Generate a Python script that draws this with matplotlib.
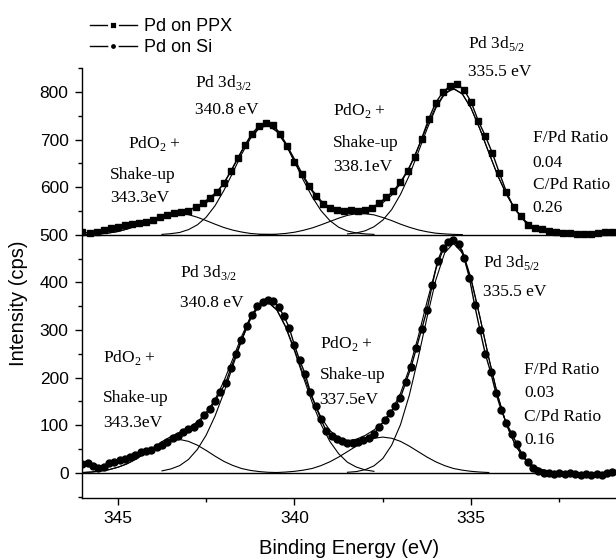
import numpy as np
import matplotlib
matplotlib.use('Agg')
import matplotlib.pyplot as plt
from matplotlib.ticker import MultipleLocator
from matplotlib.lines import Line2D

plt.rcParams['font.family'] = 'Liberation Sans'
plt.rcParams['mathtext.fontset'] = 'custom'
plt.rcParams['mathtext.rm'] = 'Liberation Serif'

# --- measured spectra (counts per second), energy steps go down from 346 eV
ppx_start, ppx_step = 346.0, 0.2
ppx_counts = [506, 503, 505, 510, 514, 516, 520, 523, 524, 527,
              532, 538, 542, 546, 547, 550, 559, 566, 578, 590,
              608, 634, 662, 689, 713, 729, 736, 731, 712, 686,
              654, 628, 603, 581, 565, 556, 553, 551, 552, 551,
              553, 557, 567, 579, 592, 611, 635, 664, 702, 744,
              778, 800, 813, 817, 805, 779, 740, 708, 672, 630,
              590, 558, 540, 520, 514, 512, 509, 506, 504, 503,
              502, 501, 502, 503, 505, 506, 506]

si_start, si_step = 346.0, 0.15
si_counts = [19, 21, 15, 10, 13, 20, 23, 26, 29, 33,
             37, 43, 46, 48, 54, 58, 64, 73, 78, 85,
             92, 97, 104, 122, 133, 150, 170, 188, 220, 250,
             279, 308, 332, 350, 359, 363, 360, 348, 330, 305,
             268, 236, 208, 170, 140, 112, 88, 78, 70, 66,
             63, 62, 64, 68, 74, 82, 96, 111, 125, 140,
             158, 190, 222, 262, 302, 342, 395, 445, 472, 485,
             489, 480, 452, 410, 352, 300, 250, 212, 168, 132,
             104, 82, 60, 38, 23, 10, 3, -1, 0, -2,
             0, -3, -1, -2, -4, -2, -5, -3, -4, -1,
             1, 2]

# --- fitted components, sampled every 0.25 eV from the given start energy
fit_step = 0.25
ppx_base = 500
ppx_peaks = [
    (346.0, [0.5, 1, 2, 4, 7, 12, 18, 25.5, 33, 39.5, 44, 45, 42.5, 37, 30,
             22.5, 15.5, 10, 6, 3, 1.5, 1, 0]),                       # PdO2 343.3
    (343.75, [1, 2.5, 5, 11, 21, 37, 61, 93, 130, 169, 202, 224, 230, 217,
              190, 154, 115, 80, 51, 30, 16, 8, 4, 2, 1]),            # 3d3/2 340.8
    (341.0, [0.5, 1, 1.5, 3, 5.5, 9.5, 14.5, 21, 28, 35, 41, 44.5, 44.5, 42,
             36.5, 30, 22.5, 16, 10.5, 6.5, 3.5, 2, 1, 0.5]),         # PdO2 338.1
    (338.5, [2, 4, 8.5, 17, 31, 53, 85, 125, 173, 222, 266, 296, 307, 296,
             266, 222, 173, 125, 85, 53, 31, 17, 8.5, 4, 2]),         # 3d5/2 335.5
]
si_base = 0
si_peaks = [
    (346.0, [0.5, 1.5, 3.5, 6.5, 11.5, 18.5, 28, 40, 51.5, 61.5, 68, 70, 66,
             58, 47, 35, 24, 15.5, 9, 5, 2.5, 1, 0.5]),               # PdO2 343.3
    (343.75, [4, 8, 15, 28, 49, 79, 119, 168, 223, 277, 322, 351, 358, 342,
              306, 256, 201, 148, 102, 66, 40, 22, 12, 6, 3]),        # 3d3/2 340.8
    (340.5, [0.5, 1.5, 3, 5.5, 9, 15, 23, 33, 44.5, 56, 66, 72.5, 75, 72.5,
             66, 56, 44.5, 33, 23, 15, 9, 5.5, 3, 1.5, 0.5]),         # PdO2 337.5
    (338.5, [1, 2.5, 6.5, 14.5, 30, 58, 101, 163, 241, 326, 405, 462, 482,
             462, 405, 326, 241, 163, 101, 58, 30, 14.5, 6.5, 2.5, 1]),  # 3d5/2 335.5
]
fit_grid_start, fit_grid_len = 346.0, 62

serif = dict(family='Liberation Serif', fontsize=12.5, va='center', ha='left')
labels_ppx = [
    (344.71, 692, 'PdO$_\\mathrm{2}$ +'), (345.22, 625, 'Shake-up'), (345.22, 577, '343.3eV'),
    (342.82, 820, 'Pd 3d$_\\mathrm{3/2}$'), (342.82, 762, '340.8 eV'),
    (338.91, 762, 'PdO$_\\mathrm{2}$ +'), (338.91, 692, 'Shake-up'), (338.91, 642, '338.1eV'),
    (335.10, 903, 'Pd 3d$_\\mathrm{5/2}$'), (335.10, 842, '335.5 eV'),
    (333.26, 703, 'F/Pd Ratio'), (333.26, 652, '0.04'),
    (333.26, 604, 'C/Pd Ratio'), (333.26, 556, '0.26'),
]
labels_si = [
    (343.24, 420, 'Pd 3d$_\\mathrm{3/2}$'), (343.24, 356, '340.8 eV'),
    (345.42, 243, 'PdO$_\\mathrm{2}$ +'), (345.42, 157, 'Shake-up'), (345.42, 105, '343.3eV'),
    (339.29, 272, 'PdO$_\\mathrm{2}$ +'), (339.29, 205, 'Shake-up'), (339.29, 153, '337.5eV'),
    (334.67, 441, 'Pd 3d$_\\mathrm{5/2}$'), (334.67, 380, '335.5 eV'),
    (333.49, 216, 'F/Pd Ratio'), (333.49, 167, '0.03'),
    (333.49, 117, 'C/Pd Ratio'), (333.49, 69, '0.16'),
]


def on_grid(start, vals):
    out = np.zeros(fit_grid_len)
    i = int(round((fit_grid_start - start) / fit_step))
    out[i:i + len(vals)] = vals
    return out


def draw_spectrum(ax, start, step, counts, base, peaks, marker, ms):
    energy = start - step * np.arange(len(counts))
    ax.plot(energy, counts, color='k', lw=1.0, marker=marker, ms=ms,
            mfc='k', mec='k', zorder=3)
    grid = fit_grid_start - fit_step * np.arange(fit_grid_len)
    total = np.zeros(fit_grid_len)
    for s, vals in peaks:
        e = s - fit_step * np.arange(len(vals))
        ax.plot(e, base + np.array(vals), color='k', lw=0.8, zorder=2)
        total += on_grid(s, vals)
    ax.plot(grid, base + total, color='k', lw=0.8, zorder=2)


fig = plt.figure(figsize=(6.16, 5.6), dpi=100)
ax = fig.add_axes([0.1339, 0.1116, 0.8661, 0.7664])

draw_spectrum(ax, ppx_start, ppx_step, ppx_counts, ppx_base, ppx_peaks, 's', 4.8)
draw_spectrum(ax, si_start, si_step, si_counts, si_base, si_peaks, 'o', 5.0)
ax.axhline(ppx_base, color='k', lw=1.0, zorder=1)
ax.axhline(si_base, color='k', lw=1.0, zorder=1)

for x, y, t in labels_ppx + labels_si:
    ax.text(x, y, t, clip_on=False, **serif)

ax.set_xlim(346.0, 330.9)
ax.set_ylim(-52, 850)
ax.xaxis.set_major_locator(MultipleLocator(5))
ax.xaxis.set_minor_locator(MultipleLocator(2.5))
ax.yaxis.set_major_locator(MultipleLocator(100))
ax.yaxis.set_minor_locator(MultipleLocator(50))
ax.tick_params(which='both', direction='out', width=1.0, labelsize=12.5)
ax.tick_params(which='major', length=5, pad=5)
ax.tick_params(which='minor', length=3)
for side in ['top', 'right']:
    ax.spines[side].set_visible(False)
for side in ['left', 'bottom']:
    ax.spines[side].set_linewidth(1.0)

ax.set_xlabel('Binding Energy (eV)', fontsize=14.5, labelpad=9)
ax.set_ylabel('Intensity (cps)', fontsize=14.5)
ax.yaxis.set_label_coords(-0.102, 0.453)

# legend handles: marker sits in a small gap of the line
handles = [Line2D([], [], color='k', lw=1.0, marker='s', ms=5.5,
                  mfc='k', mec='w', mew=2.0),
           Line2D([], [], color='k', lw=1.0, marker='o', ms=5.5,
                  mfc='k', mec='w', mew=2.0)]
fig.legend(handles, ['Pd on PPX', 'Pd on Si'], loc='upper left',
           bbox_to_anchor=(0.146, 0.968), frameon=False, fontsize=13,
           handlelength=2.6, handletextpad=0.4, labelspacing=0.25,
           borderpad=0, borderaxespad=0)

fig.savefig('out.png', dpi=100)
